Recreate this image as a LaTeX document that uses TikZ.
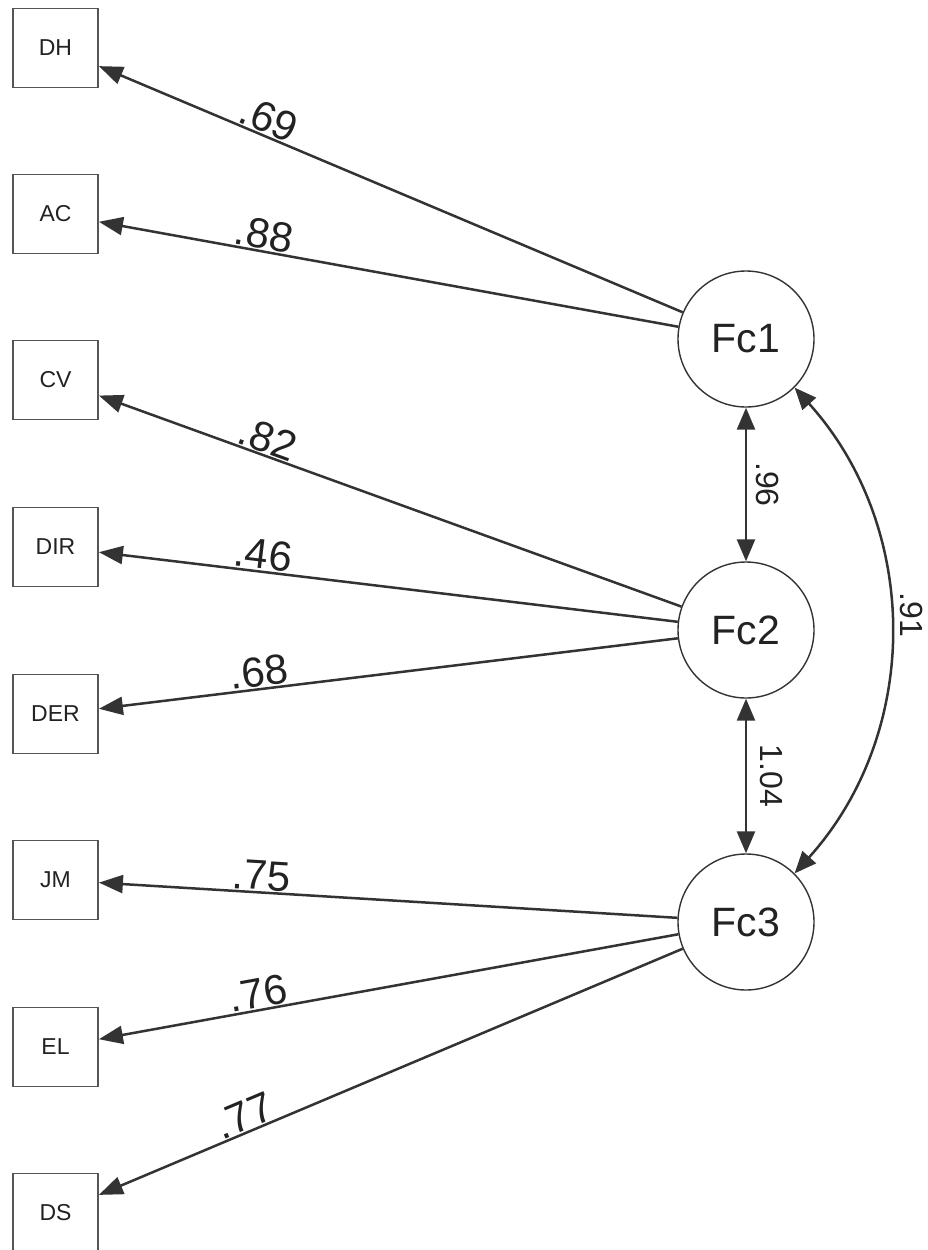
\documentclass[tikz,border=0pt]{standalone}
\usepackage{fontspec}
\setmainfont{Liberation Sans}
\usetikzlibrary{arrows.meta}
\definecolor{linec}{HTML}{333333}
\definecolor{boxc}{HTML}{555555}
\definecolor{txt}{HTML}{222222}
\begin{document}
\begin{tikzpicture}[x=1pt,y=-1pt,
 obs/.style={draw=boxc, line width=1.8pt, minimum width=85pt, minimum height=79pt, inner sep=0pt, font=\fontsize{23}{23}\selectfont, text=txt},
 lat/.style={circle, draw=linec, line width=1.4pt, minimum size=136pt, inner sep=0pt, font=\fontsize{41}{41}\selectfont, text=txt},
 load/.style={draw=linec, line width=2.5pt, -{Triangle[length=24pt,width=18pt]}},
 cov/.style={draw=linec, line width=2.5pt, {Triangle[length=22pt,width=18pt]}-{Triangle[length=22pt,width=18pt]}},
 lab/.style={font=\fontsize{42}{42}\selectfont, text=txt, inner sep=1pt, sloped, above},
 vlab/.style={font=\fontsize{32}{32}\selectfont, text=txt, rotate=-90, inner sep=0pt}]
\useasboundingbox (0,0) rectangle (928,1250);
\node[obs] (DH)  at (55.5,48)   {DH};
\node[obs] (AC)  at (55.5,214)  {AC};
\node[obs] (CV)  at (55.5,380)  {CV};
\node[obs] (DIR) at (55.5,547)  {DIR};
\node[obs] (DER) at (55.5,714)  {DER};
\node[obs] (JM)  at (55.5,880)  {JM};
\node[obs] (EL)  at (55.5,1047) {EL};
\node[obs] (DS)  at (55.5,1213) {DS};
\node[lat] (Fc1) at (746,339) {Fc1};
\node[lat] (Fc2) at (746,630) {Fc2};
\node[lat] (Fc3) at (746,922) {Fc3};
\draw[load] (Fc1) -- node[lab, pos=0.72] {.69} (DH);
\draw[load] (Fc1) -- node[lab, pos=0.72] {.88} (AC);
\draw[load] (Fc2) -- node[lab, pos=0.72] {.82} (CV);
\draw[load] (Fc2) -- node[lab, pos=0.72] {.46} (DIR);
\draw[load] (Fc2) -- node[lab, pos=0.72] {.68} (DER);
\draw[load] (Fc3) -- node[lab, pos=0.72] {.75} (JM);
\draw[load] (Fc3) -- node[lab, pos=0.72] {.76} (EL);
\draw[load] (Fc3) -- node[lab, pos=0.74] {.77} (DS);
\draw[cov] (Fc1) -- node[midway, xshift=22pt, vlab] {.96} (Fc2);
\draw[cov] (Fc2) -- node[midway, xshift=26pt, vlab] {1.04} (Fc3);
\draw[cov] (Fc1.-45) to[out=-48, in=48] node[pos=0.47, xshift=22pt, vlab] {.91} (Fc3.45);
\end{tikzpicture}
\end{document}
